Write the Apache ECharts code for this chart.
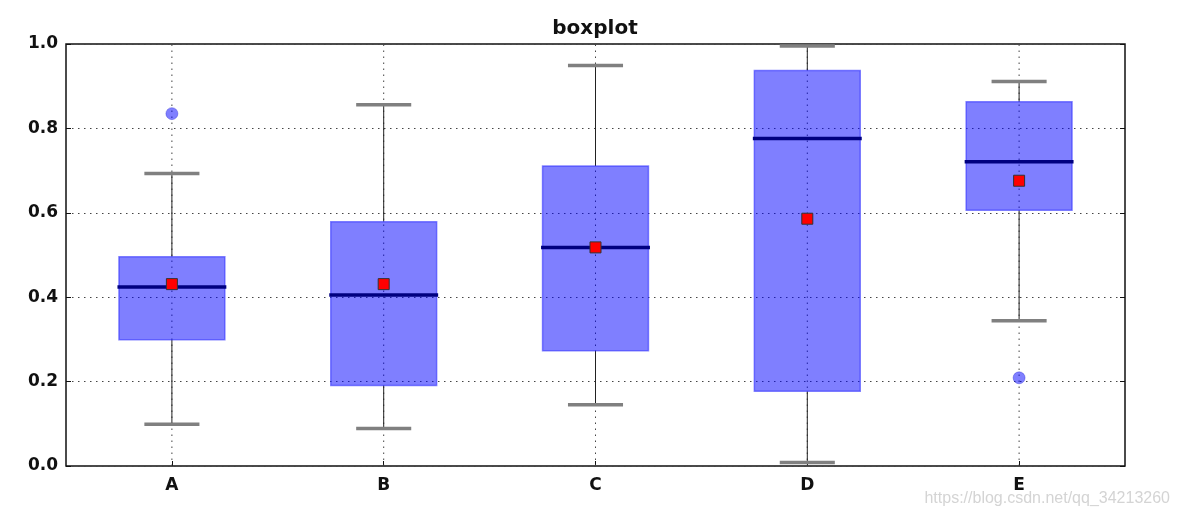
<!DOCTYPE html>
<html>
<head>
<meta charset="utf-8">
<script src="https://cdn.jsdelivr.net/npm/echarts@6/dist/echarts.min.js"></script>
<style>html,body{margin:0;padding:0;background:#fff}#c{width:1179px;height:521px}</style>
</head>
<body>
<div id="c"></div>
<script>
const categories = ['A', 'B', 'C', 'D', 'E'];
const lowWhisker = [0.099, 0.089, 0.145, 0.008, 0.344];
const q1 = [0.299, 0.191, 0.273, 0.177, 0.606];
const median = [0.424, 0.405, 0.518, 0.776, 0.721];
const q3 = [0.496, 0.579, 0.711, 0.937, 0.863];
const highWhisker = [0.693, 0.856, 0.949, 0.995, 0.911];
const means = [0.431, 0.431, 0.518, 0.586, 0.676];
const outlierCats = ['A', 'E'];
const outlierVals = [0.835, 0.209];
const yTicks = [0, 0.2, 0.4, 0.6, 0.8, 1.0];

const boxData = categories.map((c, i) => [i, lowWhisker[i], q1[i], median[i], q3[i], highWhisker[i]]);
const meanData = categories.map((c, i) => [c, means[i]]);
const outlierData = outlierCats.map((c, i) => [c, outlierVals[i]]);

const FONT = '"DejaVu Sans", sans-serif';
const chart = echarts.init(document.getElementById('c'));

function renderBox(params, api) {
  const idx = api.value(0);
  const band = api.size([1, 0])[0];
  const bw = band * 0.5;
  const cw = band * 0.26;
  const pLow = api.coord([idx, api.value(1)]);
  const pQ1 = api.coord([idx, api.value(2)]);
  const pMed = api.coord([idx, api.value(3)]);
  const pQ3 = api.coord([idx, api.value(4)]);
  const pHigh = api.coord([idx, api.value(5)]);
  const x = pMed[0];
  return {
    type: 'group',
    children: [
      {type: 'line', shape: {x1: x, y1: pLow[1], x2: x, y2: pQ1[1]}, style: {stroke: '#222', lineWidth: 1}},
      {type: 'line', shape: {x1: x, y1: pQ3[1], x2: x, y2: pHigh[1]}, style: {stroke: '#222', lineWidth: 1}},
      {type: 'line', shape: {x1: x - cw / 2, y1: pLow[1], x2: x + cw / 2, y2: pLow[1]}, style: {stroke: '#808080', lineWidth: 3.5}},
      {type: 'line', shape: {x1: x - cw / 2, y1: pHigh[1], x2: x + cw / 2, y2: pHigh[1]}, style: {stroke: '#808080', lineWidth: 3.5}},
      {type: 'rect', shape: {x: x - bw / 2, y: pQ3[1], width: bw, height: pQ1[1] - pQ3[1]},
        style: {fill: 'rgba(0,0,255,0.5)', stroke: 'rgba(40,40,255,0.55)', lineWidth: 1.5}},
      {type: 'line', shape: {x1: x - bw / 2 - 1.5, y1: pMed[1], x2: x + bw / 2 + 1.5, y2: pMed[1]}, style: {stroke: '#000080', lineWidth: 3.5}}
    ]
  };
}

function renderVGrid(params, api) {
  const idx = api.value(0);
  const p0 = api.coord([idx, 0]);
  const p1 = api.coord([idx, 1]);
  return {type: 'line', shape: {x1: p0[0], y1: p0[1], x2: p1[0], y2: p1[1]},
    style: {stroke: '#444', lineWidth: 1, lineDash: [1.5, 4.5]}};
}

chart.setOption({
  animation: false,
  backgroundColor: '#fff',
  title: {
    text: 'boxplot', left: 590, top: 14, textAlign: 'center',
    textStyle: {fontFamily: FONT, fontWeight: 'bold', fontSize: 20, color: '#111'}
  },
  graphic: [{
    type: 'text', right: 9, top: 491,
    style: {text: 'https://blog.csdn.net/qq_34213260', fill: '#d4d4d4', font: '16px "Liberation Sans", Arial, sans-serif'}
  }],
  grid: {left: 66, right: 54, top: 44, bottom: 55, show: true, borderColor: '#111', borderWidth: 1.5, backgroundColor: 'transparent'},
  xAxis: {
    type: 'category', data: categories, boundaryGap: true,
    axisLine: {show: false},
    axisTick: {show: true, inside: true, alignWithLabel: true, length: 5, lineStyle: {color: '#111'}},
    axisLabel: {fontFamily: FONT, fontWeight: 'bold', fontSize: 17, color: '#111', margin: 11},
    splitLine: {show: false}
  },
  yAxis: [{
    type: 'value', min: 0, max: 1, interval: 0.2,
    axisLine: {show: false},
    axisTick: {show: true, inside: true, length: 5, lineStyle: {color: '#111'}},
    axisLabel: {fontFamily: FONT, fontWeight: 'bold', fontSize: 17, color: '#111', margin: 8,
      formatter: v => yTicks.includes(Math.round(v * 10) / 10) ? v.toFixed(1) : ''},
    splitLine: {show: true, lineStyle: {color: '#444', type: [1.5, 4.5], width: 1}}
  }, {
    type: 'value', min: 0, max: 1, interval: 0.2, position: 'right',
    axisLine: {show: false},
    axisTick: {show: true, inside: true, length: 5, lineStyle: {color: '#111'}},
    axisLabel: {show: false}, splitLine: {show: false}
  }],
  series: [
    {type: 'custom', renderItem: renderVGrid, data: boxData, z: 1, silent: true},
    {type: 'custom', renderItem: renderBox, data: boxData, z: 2, encode: {x: 0, y: [1, 2, 3, 4, 5]}},
    {type: 'scatter', data: outlierData, symbol: 'circle', symbolSize: 12, z: 3,
      itemStyle: {color: 'rgba(0,0,255,0.5)', borderColor: 'rgba(0,0,200,0.3)', borderWidth: 1, opacity: 1}},
    {type: 'scatter', data: meanData, symbol: 'rect', symbolSize: 11, z: 4,
      itemStyle: {color: '#ff0000', borderColor: '#333', borderWidth: 1, opacity: 1}}
  ]
});
</script>
</body>
</html>
